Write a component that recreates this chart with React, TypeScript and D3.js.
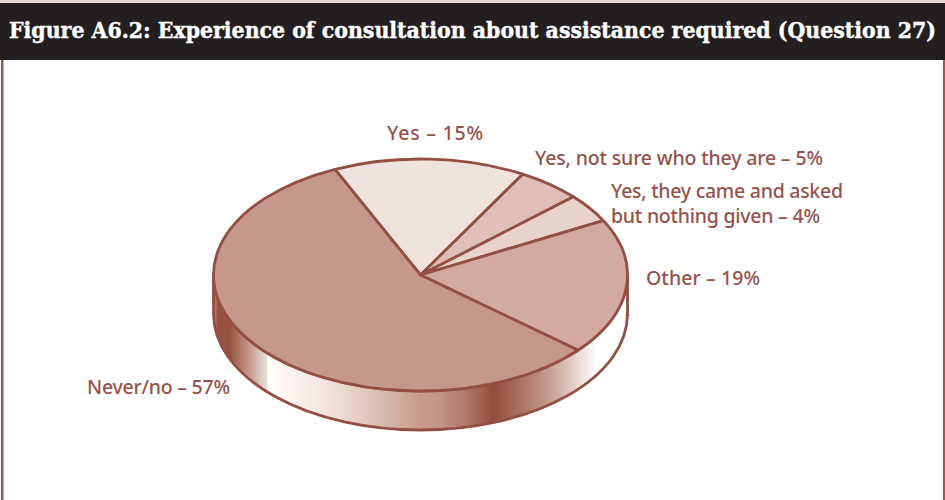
import React from 'react';
import * as d3 from 'd3';

const categories = ['Yes', 'Yes, not sure who they are', 'Yes, they came and asked but nothing given', 'Other', 'Never/no'];
const shares = [15, 5, 4, 19, 57];
const sliceColors = ['#f0e3de', '#e0c0b6', '#e8d3cb', '#d2aa9f', '#c6978b'];

// wall shading, left to right across the pie
const wallOffsets = [0, 0.011, 0.04, 0.088, 0.12, 0.129, 0.131, 0.168, 0.289, 0.402, 0.499, 0.54, 0.603, 0.675, 0.757, 0.82, 0.878, 0.926, 1];
const wallColors = ['#c49488', '#94503f', '#96543f', '#c89a8e', '#e0d5cc', '#e4dcd5', '#ffffff', '#fff6f3', '#f0e0da', '#d9bdaf', '#c8998a', '#c4968a', '#b27c6e', '#924e3f', '#b07a6c', '#c9a596', '#e8d6d1', '#ffffff', '#ffffff'];

const width = 945;
const height = 500;
const cx = 420.5;
const cy = 275;
const rx = 207;
const ry = 116;
const depth = 39;
const ink = '#934f43';

export default function App() {
  const pie = d3.pie<number>().sort(null)
    .startAngle(-24.4 * Math.PI / 180)
    .endAngle(335.6 * Math.PI / 180);
  const arc = d3.arc<d3.PieArcDatum<number>>().innerRadius(0).outerRadius(rx);
  const slices = pie(shares);

  const wallPath = `M${cx - rx},${cy} A${rx},${ry} 0 0 0 ${cx + rx},${cy} L${cx + rx},${cy + depth} A${rx},${ry} 0 0 1 ${cx - rx},${cy + depth} Z`;

  const labelStyle: React.CSSProperties = { fontFamily: '"Noto Sans", sans-serif', fontSize: 19.5, fontWeight: 500, fill: '#96524a' };

  return (
    <svg width={width} height={height} style={{ position: 'absolute', left: 0, top: 0, background: '#fff' }}>
      <defs>
        <linearGradient id="wall" gradientUnits="userSpaceOnUse" x1={cx - rx} x2={cx + rx} y1={0} y2={0}>
          {wallOffsets.map((o, i) => (
            <stop key={o} offset={o} stopColor={wallColors[i]} />
          ))}
        </linearGradient>
      </defs>

      {/* frame and title bar */}
      <rect x={0} y={0} width={width} height={3} fill="#e8d6d1" />
      <rect x={1} y={60} width={2.5} height={440} fill="#9a5a50" />
      <rect x={943} y={60} width={2} height={440} fill="#9a5a50" />
      <rect x={0} y={3} width={width} height={57} fill="#231f20" />
      <text x={9} y={38} textLength={927} lengthAdjust="spacingAndGlyphs"
        style={{ fontFamily: '"DejaVu Serif", serif', fontStretch: 'condensed', fontWeight: 700, fontSize: 22.5, fill: '#fff', stroke: '#fff', strokeWidth: 0.4 }}>
        Figure A6.2: Experience of consultation about assistance required (Question 27)
      </text>

      {/* pie */}
      <path d={wallPath} fill="url(#wall)" stroke={ink} strokeWidth={2.8} />
      <path d={`M${cx + rx - 2},${cy + depth + 1} h4`} stroke={ink} strokeWidth={1.5} />
      <g transform={`translate(${cx},${cy}) scale(1,${ry / rx})`}>
        {slices.map((s, i) => (
          <path key={categories[i]} d={arc(s) as string} fill={sliceColors[i]} stroke={ink} strokeWidth={2.8}
            strokeLinejoin="round" vectorEffect="non-scaling-stroke" />
        ))}
      </g>

      {/* labels */}
      <text x={387} y={140} textLength={96} style={labelStyle}>{`${categories[0]} – ${shares[0]}%`}</text>
      <text x={535} y={165} textLength={288} style={labelStyle}>{`${categories[1]} – ${shares[1]}%`}</text>
      <text x={611} y={198} textLength={232} style={labelStyle}>Yes, they came and asked</text>
      <text x={611} y={223} textLength={209} style={labelStyle}>{`but nothing given – ${shares[2]}%`}</text>
      <text x={646} y={285} textLength={114} style={labelStyle}>{`${categories[3]} – ${shares[3]}%`}</text>
      <text x={87} y={394} textLength={143} style={labelStyle}>{`${categories[4]} – ${shares[4]}%`}</text>
    </svg>
  );
}
